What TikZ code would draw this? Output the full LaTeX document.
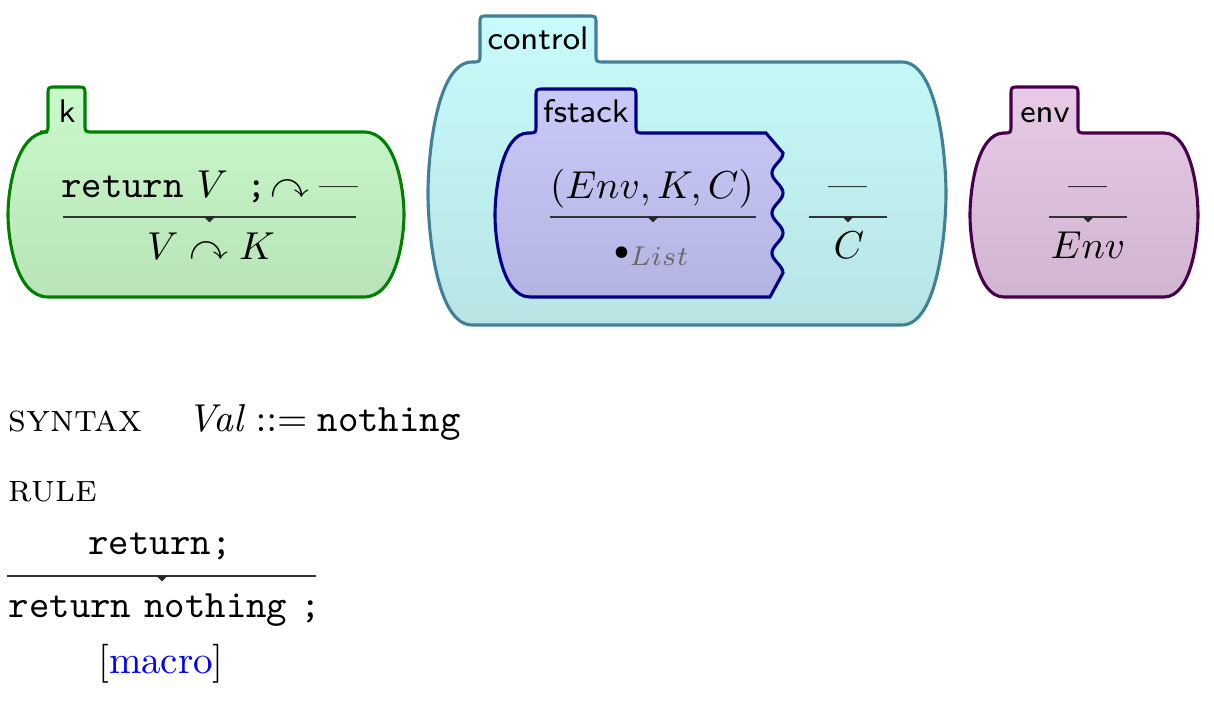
\documentclass[tikz,border=0pt]{standalone}
\usepackage{fontspec}
\usepackage{amsmath,amssymb}
\definecolor{kgline}{RGB}{0,128,0}
\definecolor{kgtop}{RGB}{202,249,202}
\definecolor{kgbot}{RGB}{184,228,184}
\definecolor{ctline}{RGB}{64,128,152}
\definecolor{cttop}{RGB}{200,251,251}
\definecolor{ctbot}{RGB}{184,228,228}
\definecolor{fsline}{RGB}{0,0,136}
\definecolor{fstop}{RGB}{202,202,250}
\definecolor{fsbot}{RGB}{180,180,226}
\definecolor{envline}{RGB}{72,0,72}
\definecolor{envtop}{RGB}{230,202,230}
\definecolor{envbot}{RGB}{208,180,208}
\definecolor{listgray}{RGB}{105,105,105}
\newcommand{\kcellshape}[9]{%
  \pgfmathsetmacro\kcM{(#4+#5)/2}%
  \pgfmathsetmacro\kcH{0.35*(#5-#4)}%
  \path[#1] ({#6-8},#4) .. controls (#6,#4) .. (#6,{#4-8}) -- (#6,{#8+8})
    .. controls (#6,#8) .. ({#6+8},#8) -- ({#7-8},#8) .. controls (#7,#8) .. (#7,{#8+8})
    -- (#7,{#4-8}) .. controls (#7,#4) .. ({#7+8},#4) -- ({#3-#9},#4)
    .. controls ({#3-0.2*#9},#4) and (#3,{#4+\kcH}) .. (#3,\kcM)
    .. controls (#3,{#5-\kcH}) and ({#3-0.2*#9},#5) .. ({#3-#9},#5)
    -- ({#2+#9},#5)
    .. controls ({#2+0.2*#9},#5) and (#2,{#5-\kcH}) .. (#2,\kcM)
    .. controls (#2,{#4+\kcH}) and ({#2+0.2*#9},#4) .. ({#2+#9},#4) -- cycle;%
}
\begin{document}
\begin{tikzpicture}[x=0.257pt,y=-0.257pt,
  cellk/.style={draw=kgline, line width=0.8pt, top color=kgtop, bottom color=kgbot},
  cellctl/.style={draw=ctline, line width=0.8pt, top color=cttop, bottom color=ctbot},
  cellfs/.style={draw=fsline, line width=0.8pt, top color=fstop, bottom color=fsbot},
  cellenv/.style={draw=envline, line width=0.8pt, top color=envtop, bottom color=envbot},
  lbl/.style={inner sep=0pt, anchor=base, font=\fontsize{8.4}{10}\selectfont\sffamily},
  term/.style={inner sep=0pt, anchor=base},
  krule/.style={draw=black!80, line width=0.45pt},
  ktri/.style={fill=black!85}]
\useasboundingbox (0,0) rectangle (1214,720);
% cells
\kcellshape{cellk}{8}{404}{132}{297}{48}{85}{87}{40}
\kcellshape{cellctl}{428}{946}{62}{325}{480}{596}{16}{44}
\kcellshape{cellenv}{970}{1198}{133}{297}{1011}{1078}{87}{34}
% fstack with wavy right edge
\path[cellfs] (528,133) .. controls (536,133) .. (536,125) -- (536,97)
  .. controls (536,89) .. (544,89) -- (628,89) .. controls (636,89) .. (636,97)
  -- (636,125) .. controls (636,133) .. (644,133) -- (766,133) -- (783,153)
  -- plot[domain=153:273, samples=61, variable=\t] ({777.5+5.5*cos(9*(\t-153))},\t)
  -- (770,297) -- (530,297)
  .. controls (502,297) and (495,240) .. (495,215)
  .. controls (495,190) and (502,133) .. (528,133) -- cycle;
% labels
\node[lbl] (klbl) at (67,123) {k};
\node[lbl] (ctllbl) at (538,50) {control};
\node[lbl] (fslbl) at (586,123) {fstack};
\node[lbl] (envlbl) at (1045,123) {env};
% k cell
\node[term] (ktop) at (210,198) {\texttt{return} $V$\hspace{4.8pt}\texttt{;}\hspace{0.8pt}$\curvearrowright\text{\textemdash}$};
\draw[krule] (63,217) -- (356,217);
\fill[ktri] (204,217) -- (215,217) -- (209.5,222.5) -- cycle;
\node[term] (kbot) at (211,260) {$V \curvearrowright K$};
% fstack
\node[term] (fstopn) at (652,199) {$(Env, K, C)$};
\draw[krule] (550,217) -- (756,217);
\fill[ktri] (647.5,217) -- (658.5,217) -- (653,222.5) -- cycle;
\node[term] (fsbotn) at (652,260) {${\scriptstyle\bullet}_{\color{listgray}List}$};
% control C
\node[term] (ctopn) at (848,198) {\textemdash};
\draw[krule] (809,217) -- (887,217);
\fill[ktri] (842.5,217) -- (853.5,217) -- (848,222.5) -- cycle;
\node[term] (cbotn) at (849,259) {$C$};
% env
\node[term] (etopn) at (1088,198) {\textemdash};
\draw[krule] (1049,217) -- (1127,217);
\fill[ktri] (1082.5,217) -- (1093.5,217) -- (1088,222.5) -- cycle;
\node[term] (ebotn) at (1088,259) {$Env$};
% syntax and rule
\node[term, anchor=base west] (syn) at (8,432) {\textsc{syntax}};
\node[term, anchor=base west] (syndef) at (187,432) {\textit{Val}\hspace{2.6pt}$::=$\hspace{2.6pt}\texttt{nothing}};
\node[term, anchor=base west] (rulehd) at (8,502) {\textsc{rule}};
\node[term] (rtop) at (160,555) {\texttt{return;}};
\draw[krule] (7,576) -- (316,576);
\fill[ktri] (156.5,576) -- (167.5,576) -- (162,581.5) -- cycle;
\node[term, anchor=base west] (rbot) at (8,618) {\texttt{return} \texttt{nothing} \texttt{;}};
\node[term] (rattr) at (161,674) {[{\color{blue}macro}]};
\end{tikzpicture}
\end{document}
